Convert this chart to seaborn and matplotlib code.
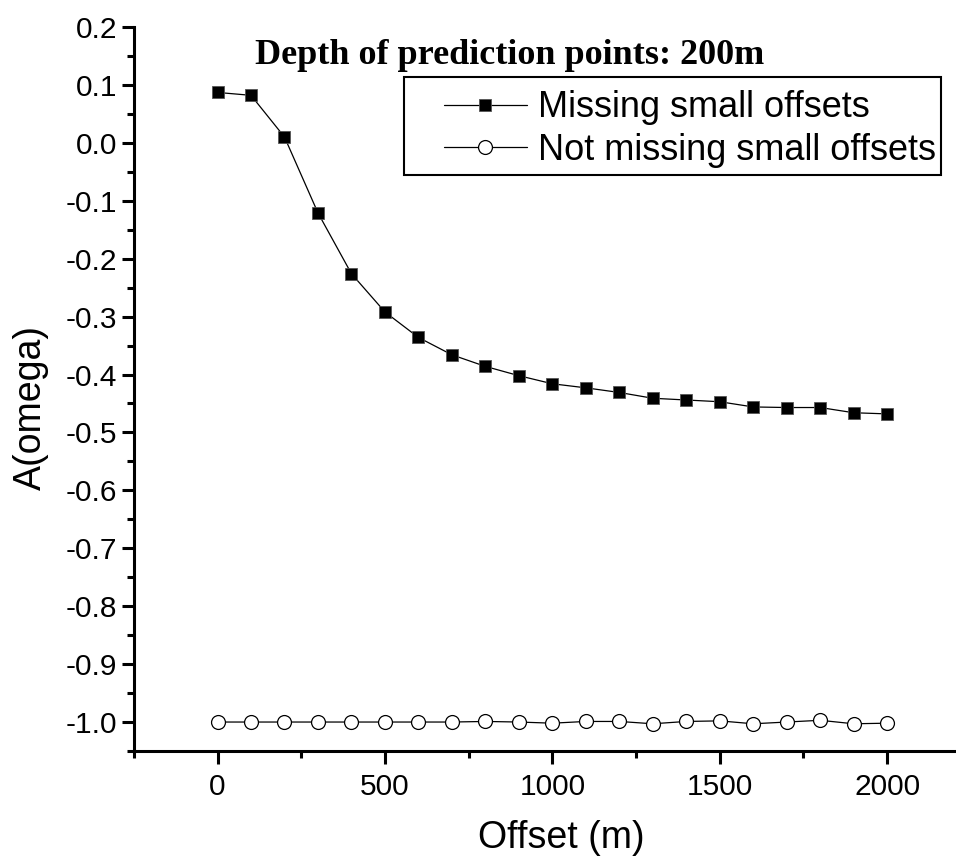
import numpy as np
import pandas as pd
import matplotlib
matplotlib.use("Agg")
import matplotlib.pyplot as plt
import seaborn as sns
from matplotlib.patches import Rectangle
from matplotlib.ticker import MultipleLocator

# data
offset = [0, 100, 200, 300, 400, 500, 600, 700, 800, 900, 1000,
          1100, 1200, 1300, 1400, 1500, 1600, 1700, 1800, 1900, 2000]
missing = [0.087, 0.082, 0.010, -0.121, -0.226, -0.292, -0.336, -0.366,
           -0.386, -0.402, -0.416, -0.423, -0.431, -0.441, -0.444, -0.447,
           -0.456, -0.457, -0.457, -0.466, -0.468]
not_missing = [-1.000, -1.000, -1.000, -1.000, -1.000, -1.000, -1.000, -1.000,
               -0.999, -1.000, -1.002, -0.999, -0.999, -1.003, -0.999, -0.998,
               -1.003, -1.000, -0.997, -1.003, -1.002]
labels = ["Missing small offsets", "Not missing small offsets"]
title = "Depth of prediction points: 200m"
yticks = [-1.0, -0.9, -0.8, -0.7, -0.6, -0.5, -0.4, -0.3, -0.2, -0.1, 0.0, 0.1, 0.2]
xticks = [0, 500, 1000, 1500, 2000]

df = pd.DataFrame({
    "offset": offset * 2,
    "value": missing + not_missing,
    "series": [labels[0]] * len(offset) + [labels[1]] * len(offset),
})

sns.set_style("ticks")
plt.rcParams["font.family"] = ["Liberation Sans", "DejaVu Sans"]
plt.rcParams["text.color"] = "black"
plt.rcParams["axes.labelcolor"] = "black"
plt.rcParams["xtick.color"] = "black"
plt.rcParams["ytick.color"] = "black"
plt.rcParams["axes.edgecolor"] = "black"

fig = plt.figure(figsize=(9.56, 8.65), dpi=100)
ax = fig.add_axes([0.140, 0.1318, 0.858, 0.837])

sns.lineplot(data=df[df["series"] == labels[0]], x="offset", y="value",
             ax=ax, color="black", lw=0.9, marker="s", markersize=9,
             markerfacecolor="black", markeredgecolor="#555555",
             markeredgewidth=0.6, label=labels[0])
sns.lineplot(data=df[df["series"] == labels[1]], x="offset", y="value",
             ax=ax, color="black", lw=0.9, marker="o", markersize=10,
             markerfacecolor="white", markeredgecolor="black",
             markeredgewidth=0.9, label=labels[1])

ax.set_xlim(-250, 2200)
ax.set_ylim(-1.05, 0.2)
ax.set_xticks(xticks)
ax.set_yticks(yticks)
ax.set_yticklabels([f"{v:.1f}" for v in yticks])
ax.xaxis.set_minor_locator(MultipleLocator(250))
ax.yaxis.set_minor_locator(MultipleLocator(0.05))

sns.despine(ax=ax)
for s in ["left", "bottom"]:
    ax.spines[s].set_linewidth(2.2)
ax.tick_params(which="major", length=9, width=2.2, labelsize=21.5, direction="out", pad=3)
ax.tick_params(which="minor", length=5, width=2.2, direction="out")
ax.tick_params(axis="x", which="major", pad=7)

ax.set_xlabel("Offset (m)", fontsize=27)
ax.set_ylabel("A(omega)", fontsize=27)
ax.xaxis.set_label_coords(0.5207, -0.095)
ax.yaxis.set_label_coords(-0.104, 0.474)

ax.text(0.1476, 0.949, title, transform=ax.transAxes, fontsize=26,
        fontweight="bold", family=["Liberation Serif", "DejaVu Serif"],
        ha="left", va="baseline")

# legend box drawn separately, Origin style
ax.add_patch(Rectangle((0.329, 0.796), 0.655, 0.135, transform=ax.transAxes,
                       facecolor="white", edgecolor="black", lw=1.5, zorder=4))
leg = ax.legend(loc="upper left", bbox_to_anchor=(0.378, 0.9125),
                borderaxespad=0, borderpad=0, fontsize=26, frameon=False,
                handlelength=2.3, handletextpad=0.3, labelspacing=0.2)
leg.set_zorder(5)

fig.savefig("out.png", dpi=100)
